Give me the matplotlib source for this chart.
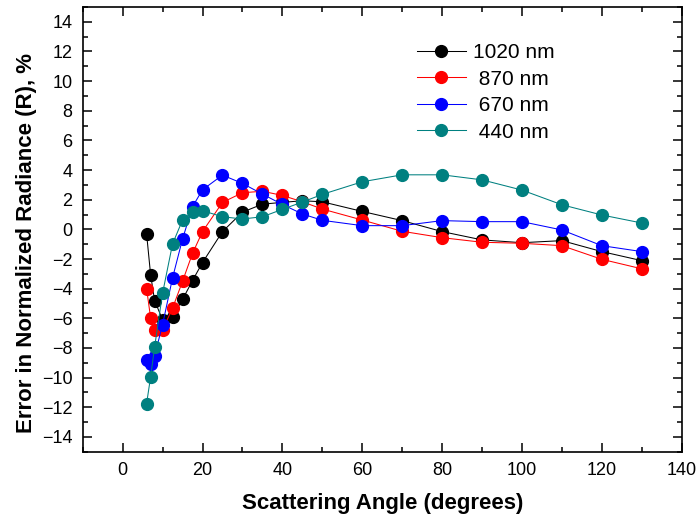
import matplotlib
matplotlib.use('Agg')
import matplotlib.pyplot as plt
from matplotlib.ticker import MultipleLocator

plt.rcParams['font.family'] = ['Liberation Sans', 'DejaVu Sans']

# scattering angles (degrees)
angle = [6, 7, 8, 10, 12.5, 15, 17.5, 20, 25, 30, 35, 40, 45, 50,
         60, 70, 80, 90, 100, 110, 120, 130]

# error in normalized radiance, %
err_1020 = [-0.31, -3.05, -4.80, -6.10, -5.89, -4.73, -3.45, -2.24, -0.15, 1.16, 1.70,
            1.82, 1.93, 1.86, 1.21, 0.59, -0.15, -0.71, -0.90, -0.76, -1.50, -2.11]
err_870 = [-4.01, -5.96, -6.82, -6.77, -5.32, -3.50, -1.62, -0.15, 1.82, 2.47, 2.57,
           2.29, 1.86, 1.37, 0.63, -0.13, -0.56, -0.87, -0.94, -1.10, -2.02, -2.66]
err_670 = [-8.79, -9.06, -8.52, -6.43, -3.27, -0.65, 1.53, 2.67, 3.66, 3.10, 2.38,
           1.68, 1.04, 0.61, 0.25, 0.25, 0.59, 0.52, 0.52, -0.04, -1.10, -1.50]
err_440 = [-11.75, -9.96, -7.94, -4.31, -0.98, 0.63, 1.14, 1.26, 0.85, 0.70, 0.85,
           1.35, 1.84, 2.36, 3.21, 3.68, 3.68, 3.34, 2.65, 1.66, 0.97, 0.43]

series = [('1020 nm', err_1020, 'black'),
          (' 870 nm', err_870, 'red'),
          (' 670 nm', err_670, 'blue'),
          (' 440 nm', err_440, '#008080')]

fig = plt.figure(figsize=(6.98, 5.23), dpi=100)
ax = fig.add_axes([0.1185, 0.1363, 0.8581, 0.8503])

for lab, vals, col in series:
    ax.plot(angle, vals, '-o', color=col, lw=0.75, ms=8.5, mec=col, label=lab)

ax.set_xlim(-10, 140)
ax.set_ylim(-15, 15)
ax.xaxis.set_minor_locator(MultipleLocator(10))
ax.yaxis.set_minor_locator(MultipleLocator(1))
ax.set_yticks(range(-14, 15, 2))
ax.set_xticks(range(0, 141, 20))
ax.tick_params(which='both', direction='in', top=True, right=True, width=1.1,
               labelsize=13, pad=7.5)
ax.tick_params(which='major', length=6.5)
ax.tick_params(which='minor', length=3.5)
for s in ax.spines.values():
    s.set_linewidth(1.2)

ax.set_xlabel('Scattering Angle (degrees)', fontsize=16, fontweight='bold', labelpad=10)
ax.set_ylabel('Error in Normalized Radiance (R), %', fontsize=16, fontweight='bold')
ax.yaxis.set_label_coords(-0.077, 0.47)

ax.legend(loc='upper left', bbox_to_anchor=(0.540, 0.942), frameon=False, fontsize=15,
          handlelength=2.36, handletextpad=0.37, labelspacing=0.36, borderpad=0)

fig.savefig('out.png', dpi=100)
